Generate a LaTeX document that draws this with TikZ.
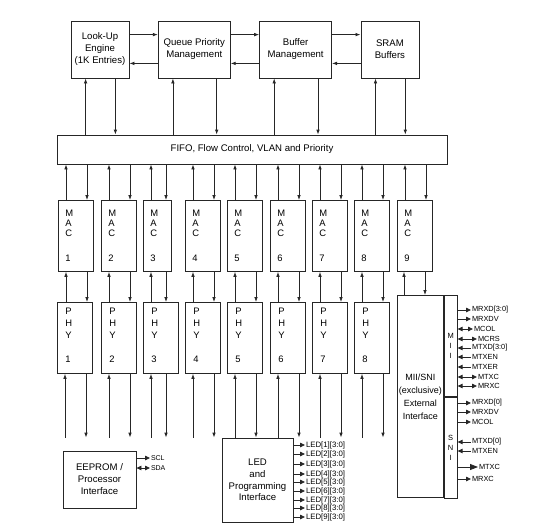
\documentclass[tikz,border=0pt]{standalone}
\usepackage{fontspec}
\setmainfont{Liberation Sans}
\usetikzlibrary{positioning,arrows.meta,calc}

\begin{document}
\begin{tikzpicture}[
    x=1pt, y=-1pt,
    node distance=28.5pt,
    >={Latex[length=5pt,width=3.6pt]},
    line width=0.8pt, draw=black!85,
    every node/.style={font=\fontsize{9.6}{12}\selectfont},
    box/.style={draw, rectangle, align=center, inner sep=1pt},
    port/.style={box, anchor=north west, minimum width=35pt, minimum height=71pt},
    vlabel/.style={align=left, inner sep=0pt, anchor=base west},
    sig/.style={anchor=west, inner sep=0.6pt, font=\fontsize{7.4}{8}\selectfont},
    sigout/.style={-{Triangle[length=5pt,width=4.5pt]}},
    sigin/.style={{Triangle[length=5pt,width=4.5pt]}-},
    sigboth/.style={{Triangle[length=5pt,width=4.5pt]}-{Triangle[length=5pt,width=4.5pt]}},
    sigbig/.style={-{Triangle[length=8pt,width=6pt]}}
]
\useasboundingbox (0,0) rectangle (547,531);

\node[box, minimum width=58pt, minimum height=57pt] (lookup) at (100,49.5) {Look-Up\\Engine\\(1K Entries)};
\node[box, minimum width=72pt, minimum height=57pt, right=of lookup] (queue) {Queue Priority\\Management};
\node[box, minimum width=72pt, minimum height=57pt, right=of queue] (buffer) {Buffer\\Management};
\node[box, minimum width=58pt, minimum height=57pt, right=of buffer] (sram) {SRAM\\Buffers};
\node[box, minimum width=390pt, minimum height=29pt] (fifo) at (252,149.5) {FIFO, Flow Control, VLAN and Priority};

\foreach \a/\b in {lookup/queue, queue/buffer, buffer/sram} {
    \draw[->] ([yshift=-14pt]\a.north east) -- ([yshift=-14pt]\b.north west);
    \draw[<-] ([yshift=15pt]\a.south east) -- ([yshift=15pt]\b.south west);
}
\foreach \b in {lookup, queue, buffer, sram} {
    \draw[<-] ([xshift=15pt]\b.south west) -- ([xshift=15pt]\b.south west |- fifo.north);
    \draw[->] ([xshift=-14pt]\b.south east) -- ([xshift=-14pt]\b.south east |- fifo.north);
}

\node[box, minimum width=73pt, minimum height=57pt] (eeprom) at (99.5,479.5) {EEPROM /\\Processor\\Interface};
\node[box, minimum width=71pt, minimum height=84pt, font=\fontsize{9.6}{11.7}\selectfont] (led) at (257.5,480) {LED\\and\\Programming\\Interface};
\node[box, anchor=north west, minimum width=46pt, minimum height=202pt, font=\fontsize{9}{13}\selectfont] (mii) at (397,295) {MII/SNI\\(exclusive)\\External\\Interface};
\node[box, anchor=north west, minimum width=13pt, minimum height=101pt, inner sep=0pt, font=\fontsize{7.5}{10}\selectfont] (miistrip) at (mii.north east) {M\\I\\I};
\node[box, anchor=north west, minimum width=13pt, minimum height=101pt, inner sep=0pt, font=\fontsize{7.5}{10}\selectfont] (snistrip) at (miistrip.south west) {S\\N\\I};

\foreach \i/\l/\w/\d in {1/58/35pt/29pt, 2/101/35pt/29pt, 3/143/28pt/23pt, 4/185/35pt/29pt, 5/227/35pt/29pt, 6/270/35pt/29pt, 7/312/35pt/29pt, 8/354/35pt/29pt, 9/397/35pt/29pt} {
    \node[port, minimum width=\w] (mac\i) at (\l,200) {};
    \node[vlabel, font=\fontsize{9.4}{10.3}\selectfont] at ($(mac\i.north west)+(7,61.5)$) {M\\A\\C\\[14.5pt]\i};
    \draw[->] ([xshift=8pt]mac\i.north west) -- ([xshift=8pt]mac\i.north west |- fifo.south);
    \draw[<-] ([xshift=\d]mac\i.north west) -- ([xshift=\d]mac\i.north west |- fifo.south);
}
\foreach \i/\l/\d in {1/57/29pt, 2/101/29pt, 3/143/23pt, 4/185/29pt, 5/227/29pt, 6/270/29pt, 7/312/29pt, 8/354/29pt} {
    \node[port] (phy\i) at (\l,302) {};
    \node[vlabel, font=\fontsize{9.4}{12}\selectfont] at ($(phy\i.north west)+(8,60)$) {P\\H\\Y\\[11.5pt]\i};
    \draw[<-] ([xshift=8pt]mac\i.south west) -- ([xshift=8pt]mac\i.south west |- phy\i.north);
    \draw[->] ([xshift=\d]mac\i.south west) -- ([xshift=\d]mac\i.south west |- phy\i.north);
    \draw[<-] ([xshift=8pt]phy\i.south west) -- ([xshift=8pt]phy\i.south west |- led.north);
    \draw[->] ([xshift=\d]phy\i.south west) -- ([xshift=\d]phy\i.south west |- led.north);
}
\draw[<-] ([xshift=7pt]mac9.south west) -- ([xshift=7pt]mac9.south west |- mii.north);
\draw[->] ([xshift=28pt]mac9.south west) -- ([xshift=28pt]mac9.south west |- mii.north);

\foreach \n/\y/\x/\s/\t in {1/310/471/sigout/MRXD[3:0], 2/319/471/sigout/MRXDV, 3/329/473/sigboth/MCOL, 4/339/477/sigboth/MCRS, 5/348/471/sigin/MTXD[3:0], 6/357/471/sigin/MTXEN, 7/367/471/sigin/MTXER, 8/377/477/sigboth/MTXC, 9/386/477/sigboth/MRXC} {
    \node[sig] (miio\n) at (\x,\y) {\t};
    \draw[\s] (miistrip.east |- miio\n.west) -- (miio\n.west);
}
\foreach \n/\y/\x/\s/\t in {1/403/471/sigout/MRXD[0], 2/412/471/sigout/MRXDV, 3/422/471/sigout/MCOL, 4/442/471/sigin/MTXD[0], 5/451/471/sigin/MTXEN, 6/467/478/sigbig/MTXC, 7/479/471/sigout/MRXC} {
    \node[sig] (snio\n) at (\x,\y) {\t};
    \draw[\s] (snistrip.east |- snio\n.west) -- (snio\n.west);
}

\foreach \n/\y in {1/445, 2/454, 3/464, 4/474, 5/482, 6/491, 7/500, 8/508, 9/517} {
    \node[sig, font=\fontsize{7.8}{8}\selectfont] (ledo\n) at (305,\y) {LED[\n][3:0]};
    \draw[sigout] (led.east |- ledo\n.west) -- (ledo\n.west);
}

\node[sig, font=\fontsize{7}{8}\selectfont] (scl) at (150,458) {SCL};
\node[sig, font=\fontsize{7}{8}\selectfont] (sda) at (150,468) {SDA};
\draw[sigout] (eeprom.east |- scl.west) -- (scl.west);
\draw[sigboth] (eeprom.east |- sda.west) -- (sda.west);
\end{tikzpicture}
\end{document}
